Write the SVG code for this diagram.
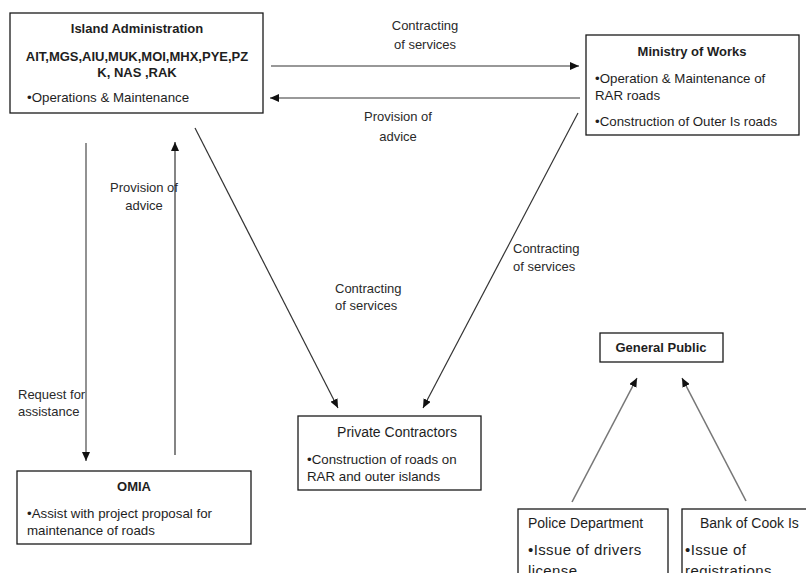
<svg xmlns="http://www.w3.org/2000/svg" width="806" height="573" viewBox="0 0 806 573">
  <style>
    .box { fill: #ffffff; stroke: #1a1a1a; stroke-width: 1.3; }
    .t { font-family: "Liberation Sans", Arial, sans-serif; fill: #1e1e1e; }
    .title { font-size: 13px; font-weight: bold; }
    .head { font-size: 14px; }
    .body { font-size: 13.3px; }
    .big { font-size: 15px; letter-spacing: 0.4px; }
    .lbl { font-family: "Liberation Sans", Arial, sans-serif; fill: #2a2a2a; font-size: 13px; }
    .c { text-anchor: middle; }
    .edge { fill: none; stroke: #333333; stroke-width: 1.2; marker-end: url(#arrow); }
    .soft { stroke: #777777; stroke-width: 1.6; }
  </style>
  <defs>
    <marker id="arrow" markerUnits="userSpaceOnUse" markerWidth="9" markerHeight="8" refX="9" refY="4" orient="auto">
      <path d="M0,0 L9,4 L0,8 z" fill="#111111"/>
    </marker>
  </defs>
  <rect width="806" height="573" fill="#ffffff"/>

  <g id="connectors">
    <path class="edge" d="M271,66 H579"/>
    <path class="edge soft" d="M580,98 H270"/>
    <path class="edge" d="M195,128 L338,408"/>
    <path class="edge" d="M578,113 L423,408"/>
    <path class="edge soft" d="M86,143 V461"/>
    <path class="edge" d="M175,455 V142"/>
    <path class="edge soft" d="M572,502 L637,378"/>
    <path class="edge soft" d="M746,501 L682,378"/>

    <text class="lbl c" x="425" y="30">Contracting</text>
    <text class="lbl c" x="425" y="49">of services</text>
    <text class="lbl c" x="398" y="121">Provision of</text>
    <text class="lbl c" x="398" y="141">advice</text>
    <text class="lbl c" x="144" y="192">Provision of</text>
    <text class="lbl c" x="144" y="210">advice</text>
    <text class="lbl" x="335" y="293">Contracting</text>
    <text class="lbl" x="335" y="310">of services</text>
    <text class="lbl" x="513" y="253">Contracting</text>
    <text class="lbl" x="513" y="271">of services</text>
    <text class="lbl" x="18" y="399">Request for</text>
    <text class="lbl" x="18" y="416">assistance</text>
  </g>

  <g id="island-administration">
    <rect class="box" x="10" y="13" width="253" height="100"/>
    <text class="t title c" x="137" y="33">Island Administration</text>
    <text class="t title c" x="137" y="61">AIT,MGS,AIU,MUK,MOI,MHX,PYE,PZ</text>
    <text class="t title c" x="137" y="77">K, NAS ,RAK</text>
    <text class="t body" x="27" y="102">•Operations &amp; Maintenance</text>
  </g>

  <g id="ministry-of-works">
    <rect class="box" x="586" y="35" width="213" height="100"/>
    <text class="t title c" x="692" y="56">Ministry of Works</text>
    <text class="t body" x="595" y="83">•Operation &amp; Maintenance of</text>
    <text class="t body" x="595" y="100">RAR roads</text>
    <text class="t body" x="595" y="126">•Construction of Outer Is roads</text>
  </g>

  <g id="private-contractors">
    <rect class="box" x="298" y="416" width="183" height="74"/>
    <text class="t head c" x="397" y="437">Private Contractors</text>
    <text class="t body" x="307" y="464">•Construction of roads on</text>
    <text class="t body" x="307" y="481">RAR and outer islands</text>
  </g>

  <g id="omia">
    <rect class="box" x="17" y="471" width="234" height="73"/>
    <text class="t title c" x="134" y="491">OMIA</text>
    <text class="t body" x="27" y="518">•Assist with project proposal for</text>
    <text class="t body" x="27" y="535">maintenance of roads</text>
  </g>

  <g id="general-public">
    <rect class="box" x="600" y="333" width="123" height="29"/>
    <text class="t title c" x="661" y="352">General Public</text>
  </g>

  <g id="police-department">
    <rect class="box" x="518" y="509" width="150" height="80"/>
    <text class="t head" x="528" y="528">Police Department</text>
    <text class="t big" x="528" y="555">•Issue of drivers</text>
    <text class="t big" x="528" y="576">license</text>
  </g>

  <g id="bank-of-cook-is">
    <rect class="box" x="682" y="509" width="140" height="80"/>
    <text class="t head" x="700" y="528">Bank of Cook Is</text>
    <text class="t big" x="685" y="555">•Issue of</text>
    <text class="t big" x="685" y="576">registrations</text>
  </g>
</svg>
